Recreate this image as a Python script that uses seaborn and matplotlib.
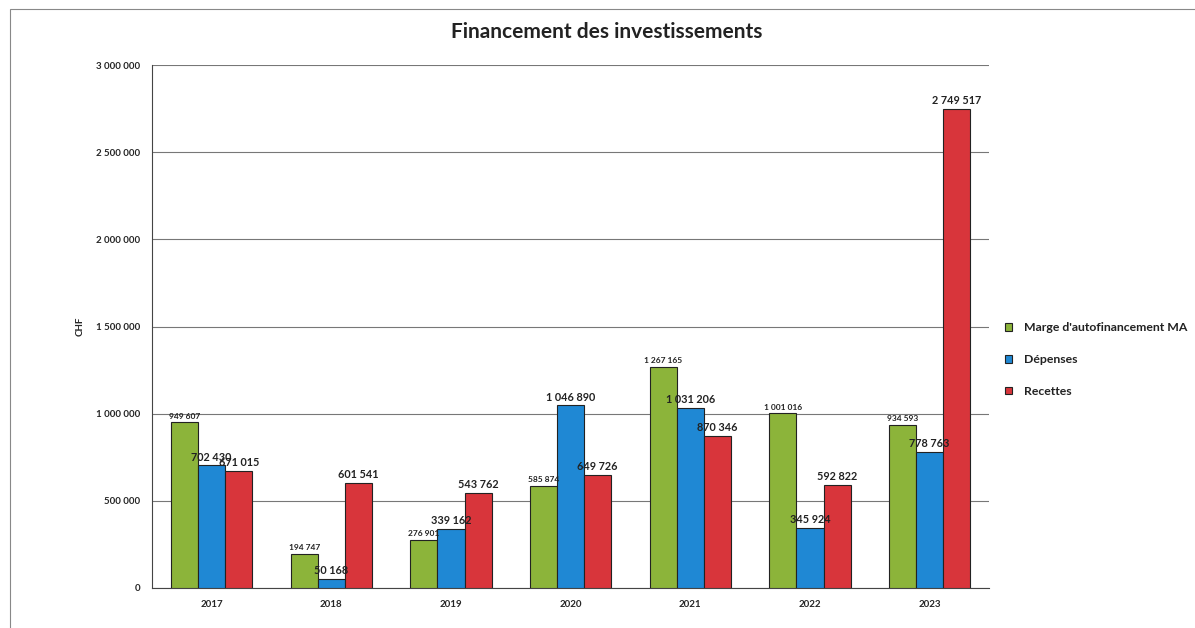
import pandas as pd
import seaborn as sns
import matplotlib.pyplot as plt
from matplotlib.ticker import FuncFormatter
from matplotlib.patches import Rectangle

# données du graphique
annees = ['2017', '2018', '2019', '2020', '2021', '2022', '2023']
marge = [949607, 194747, 276901, 585874, 1267165, 1001016, 934593]
depenses = [702430, 50168, 339162, 1046890, 1031206, 345924, 778763]
recettes = [671015, 601541, 543762, 649726, 870346, 592822, 2749517]
series = ["Marge d'autofinancement MA", 'Dépenses', 'Recettes']
couleurs = ['#8cb43a', '#1f88d4', '#d8353b']

df = pd.DataFrame({
    'annee': annees * 3,
    'serie': [series[0]] * 7 + [series[1]] * 7 + [series[2]] * 7,
    'valeur': marge + depenses + recettes,
})

sns.set_style('white')
plt.rcParams['font.family'] = ['Lato', 'DejaVu Sans']


def fmt(v):
    # séparateur de milliers avec espace
    return f'{int(v):,}'.replace(',', ' ')


fig = plt.figure(figsize=(11.95, 6.28), dpi=100)
ax = fig.add_axes([0.127, 0.064, 0.701, 0.832])

sns.barplot(data=df, x='annee', y='valeur', hue='serie', palette=couleurs,
            width=0.68, edgecolor='#222222', linewidth=0.8, saturation=1,
            ax=ax, zorder=3)

# étiquettes de valeurs
tailles = [6, 7.8, 7.8]
for i, cont in enumerate(ax.containers):
    ax.bar_label(cont, labels=[fmt(v) for v in cont.datavalues],
                 fontsize=tailles[i], fontweight='bold', padding=2,
                 color='#222222', zorder=4)

ax.set_ylim(0, 3000000)
ax.set_xlim(-0.5, 6.5)
ax.set_yticks(range(0, 3000001, 500000))
ax.yaxis.set_major_formatter(FuncFormatter(lambda v, p: fmt(v)))
ax.grid(axis='y', color='#777777', linewidth=0.8, zorder=0)
ax.tick_params(axis='both', labelsize=7, length=5, width=0.8, color='#555555')
for lab in ax.get_xticklabels() + ax.get_yticklabels():
    lab.set_fontweight('bold')
ax.set_xlabel('')
ax.set_ylabel('CHF', fontsize=7, fontweight='bold', labelpad=8)

for s in ['top', 'right']:
    ax.spines[s].set_visible(False)
ax.spines['left'].set_color('#444444')
ax.spines['bottom'].set_color('#444444')

fig.suptitle('Financement des investissements', x=0.508, y=0.965,
             fontsize=15, fontweight='bold', color='#222222')

leg = ax.legend(loc='center left', bbox_to_anchor=(1.005, 0.437), frameon=False,
                fontsize=8.8, handlelength=0.6, handleheight=0.6,
                labelspacing=1.7, handletextpad=1.0)
for t in leg.get_texts():
    t.set_fontweight('bold')
    t.set_color('#222222')

# cadre extérieur
fig.patches.append(Rectangle((0.008, -0.01), 1.0, 0.995, transform=fig.transFigure,
                             fill=False, edgecolor='#888888', linewidth=0.8))

fig.savefig('out.png', dpi=100)
